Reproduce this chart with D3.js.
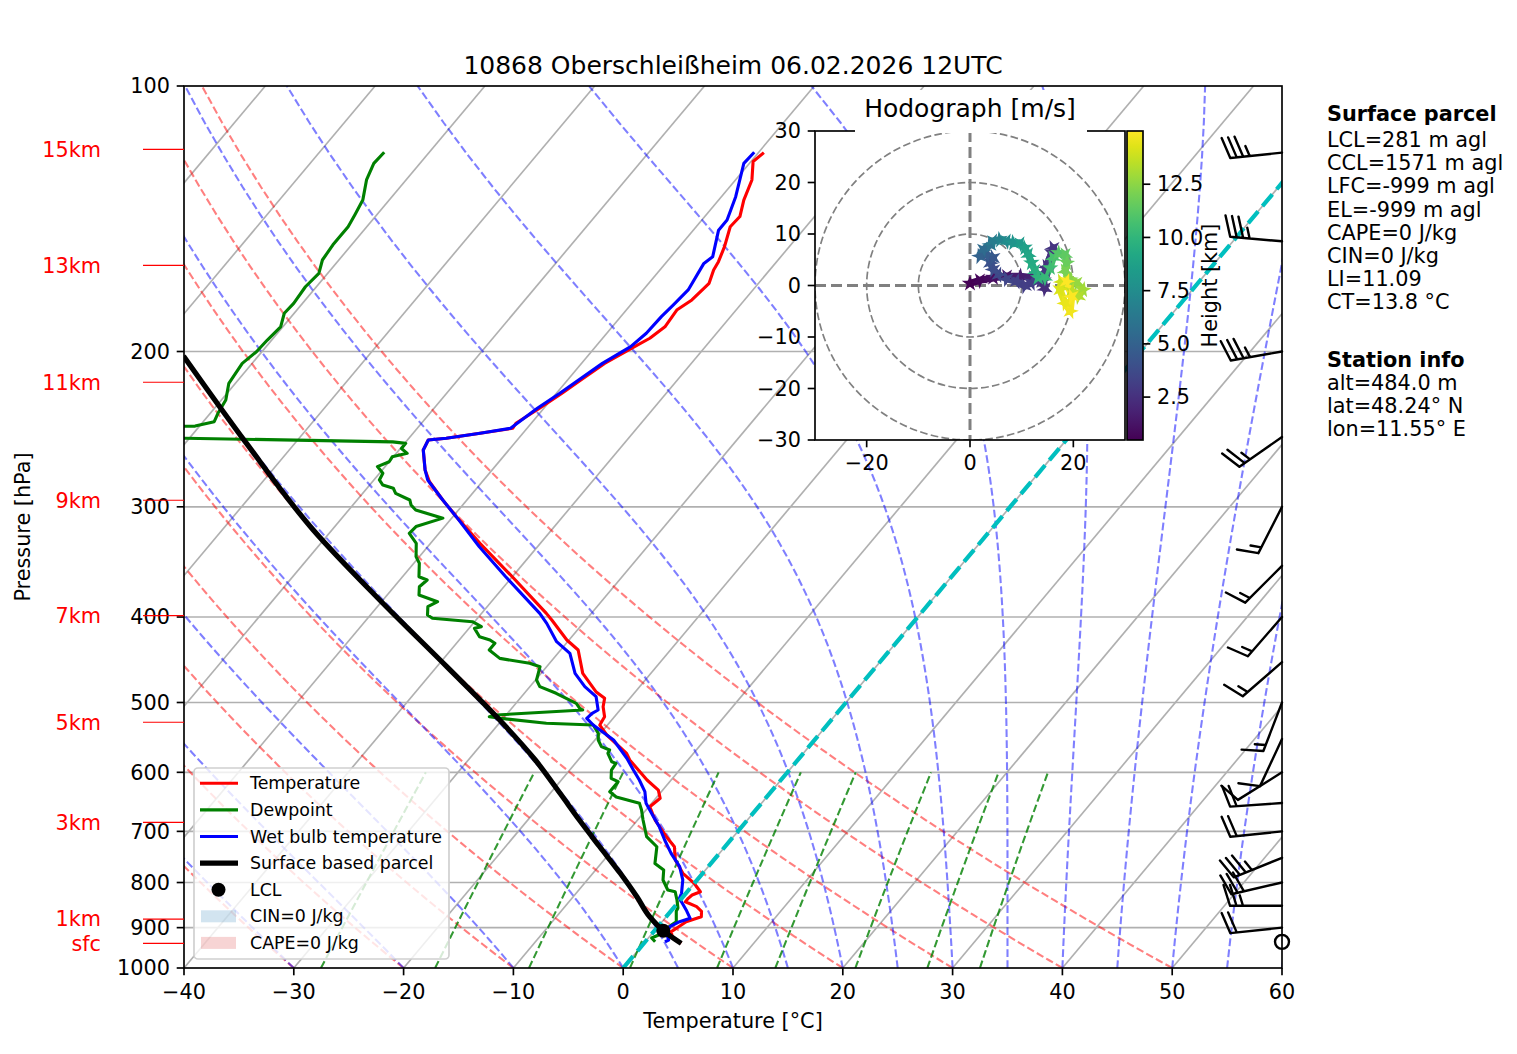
<!DOCTYPE html>
<html>
<head>
<meta charset="utf-8">
<script src="https://cdn.jsdelivr.net/npm/d3@7"></script>
<style>
  body { margin: 0; background: #fff; }
  svg { font-family: "DejaVu Sans", sans-serif; }
</style>
</head>
<body>
<div id="chart"></div>
<script>
// ---- sounding data ----
const tempP = [937.6, 922.4, 909.5, 897.8, 886.2, 874.8, 862.4, 852, 841.1, 833.7, 826.5, 819.4, 812, 801.7, 781, 754.4, 728.7, 709.8, 679.6, 656.4, 642.1, 628.4, 612.1, 581, 570.9, 544.3, 530.3, 518.9, 505.5, 494.6, 486.1, 463.4, 436, 424.7, 403.1, 396.2, 360.1, 330, 307.8, 294.7, 281, 272.5, 258.6, 252, 250.8, 247.6, 244.4, 241.2, 231.9, 223, 215.4, 206.3, 198.4, 193.2, 187.5, 179.5, 174.8, 167.4, 161.7, 158.2, 152.1, 144.4, 140.6, 134.7, 127.8, 121.8, 119];
const tempT = [3.4, 2.1, 1.6, 1.9, 2.2, 3.2, 2.8, 2.0, 0.6, 0.6, 0.7, 1.2, 0.7, 0.0, -1.8, -3.5, -4.6, -6.1, -8.4, -9.9, -9.6, -10.4, -12.2, -15.3, -16.1, -19.3, -20.7, -20.9, -21.8, -22.3, -23.6, -26.2, -28.4, -30.2, -33.1, -34.1, -40.0, -45.5, -49.7, -52.2, -54.8, -56.1, -57.8, -58.1, -56.6, -53.9, -51.3, -51.4, -50.4, -49.5, -48.8, -47.9, -46.6, -45.7, -45.2, -45.4, -44.8, -44.5, -45.1, -45.3, -45.9, -46.9, -46.8, -47.7, -48.5, -49.8, -49.5];

const dewP = [933.7, 924.7, 917.5, 893.7, 886.2, 862.4, 855.1, 837.3, 819.4, 815.8, 794.7, 774.3, 761.1, 728.7, 709.8, 679.6, 662.1, 650.6, 639.9, 631.1, 614.9, 609.4, 596.4, 586.1, 583.7, 570.9, 566, 561.1, 551.4, 541.9, 530.3, 527.9, 521.1, 518.9, 516.6, 509.9, 507.7, 501.1, 488.1, 479.7, 471.5, 455.4, 451.4, 445.6, 436, 428.4, 424.7, 421.1, 412, 410.2, 404.9, 401.3, 397.9, 389.4, 384.3, 377.7, 369.6, 363.2, 360.1, 347.6, 341.7, 330, 321.5, 315.9, 309, 302.5, 298.6, 294.7, 289.6, 285.8, 283.4, 279.7, 274.8, 270.1, 266.7, 263.3, 260.9, 257.6, 254.2, 253.2, 250.8, 248, 245, 243, 240.2, 235, 227, 217.3, 206.3, 200.1, 194.1, 187.5, 181, 176.4, 168.9, 163.1, 157.5, 151.4, 144.4, 140, 134.7, 127.8, 122.4, 118.9];
const dewT = [0.9, 0.3, 0.7, 1.1, 1.3, 0.5, 0.4, -0.3, -1.1, -1.9, -3.1, -3.8, -5.1, -6.2, -7.9, -9.5, -10.4, -11.1, -13.7, -14.7, -14.7, -15.6, -16.2, -16.3, -16.8, -17.8, -17.9, -18.9, -19.7, -20.2, -21.3, -25.7, -30.3, -31.4, -30.9, -23.4, -23.8, -24.5, -27.1, -29.1, -29.9, -30.6, -31.8, -34.9, -36.5, -36.5, -37.2, -38.4, -39.5, -39.0, -40.2, -44.1, -44.8, -45.4, -44.9, -47.1, -47.7, -47.5, -48.5, -49.5, -50.3, -51.3, -52.7, -52.6, -50.8, -53.9, -54.7, -55.2, -57.0, -57.6, -58.8, -59.5, -59.7, -60.7, -60.0, -60.1, -59.0, -59.9, -59.9, -61.2, -80.4, -95, -95, -80.4, -79.0, -79.3, -79.6, -80.6, -80.9, -80.5, -80.4, -80.2, -80.9, -80.8, -81.0, -80.8, -81.5, -81.7, -81.7, -82.0, -82.4, -83.6, -84.2, -84.1];

const wetP = [933.7, 929.6, 913.4, 897.8, 886.2, 878.4, 859.4, 833.7, 822.7, 794.7, 767.6, 741.3, 716, 691.7, 673.8, 650.6, 631.1, 612.1, 596.4, 578.3, 551.4, 530.3, 521.1, 514.3, 509.9, 492.5, 479.7, 463.4, 439.8, 426.6, 406.7, 396.2, 360.1, 332.9, 307.8, 294.7, 279.7, 272.5, 258.6, 252, 250.8, 247.6, 244.4, 231.9, 223, 215.4, 206.3, 197.5, 190.7, 182.6, 177.1, 170.3, 158.9, 156.2, 145.7, 141.9, 133.5, 122.4, 118.9];
const wetT = [1.8, 2.0, 1.3, 1.1, 1.6, 2.3, 1.3, -0.2, -0.4, -1.3, -2.6, -4.4, -6.0, -7.5, -8.8, -10.5, -11.5, -12.9, -14.2, -15.7, -18.3, -21.3, -22.4, -22.3, -22.0, -23.2, -25.0, -26.9, -28.9, -31.0, -33.3, -34.7, -40.6, -45.3, -49.7, -52.2, -55.1, -56.1, -57.8, -58.1, -56.6, -53.9, -51.5, -50.6, -49.7, -49.0, -48.1, -46.8, -46.4, -46.3, -46.1, -45.9, -46.5, -46.2, -47.7, -47.7, -48.7, -50.5, -50.4];

const parcelP = [937.6, 907.2, 874.8, 830.2, 781, 728.7, 679.6, 633.8, 581, 523.4, 455.3, 382.6, 318.7, 254.2, 202.4];
const parcelT = [3.4, 0.8, -1.5, -4.2, -7.5, -11.4, -15.3, -19.1, -23.9, -30.2, -39.1, -50.3, -61.7, -74.4, -86.8];
const lclP = 907.2, lclT = 0.8;

// wind barbs: pressure [hPa], direction [deg], speed [kt]
const barbP   = [119, 150, 200, 250, 300, 350, 400, 450, 500, 550, 600, 650, 700, 750, 800, 850, 900, 934];
const barbDir = [264, 275, 260, 235, 207, 225, 221, 229, 201, 205, 238, 266, 264, 248, 257, 270, 264, 0];
const barbSpd = [35, 35, 35, 25, 15, 15, 15, 15, 15, 10, 10, 20, 20, 35, 30, 25, 20, 0];

// height markers on the pressure axis
const heightLabels = ["sfc", "1km", "3km", "5km", "7km", "9km", "11km", "13km", "15km"];
const heightP      = [937.6, 880, 683.6, 526.5, 398.6, 294.9, 216.7, 159.7, 118.0];

// hodograph: u, v [m/s] and height [km]
const hodoU = [0, 1.9, 4.5, 7.1, 9.7, 12.3, 13.9, 14.5, 14.2, 14.8, 15.8, 16.1, 14.8, 13.5, 11.9, 10.6, 9.0, 7.1, 5.5, 4.5, 3.9, 4.5, 3.2, 1.9, 2.6, 3.9, 4.5, 5.8, 7.1, 8.4, 9.7, 10.6, 11.3, 11.9, 12.6, 13.2, 14.5, 15.5, 16.1, 17.1, 18.4, 18.7, 18.4, 19.4, 20.6, 21.9, 21.0, 19.7, 17.7, 17.4, 18.4, 19.4, 19.7, 18.7];
const hodoV = [0.4, 1.0, 1.5, 1.8, 1.8, 1.5, 0.8, -0.6, 1.2, 3.7, 6.3, 7.3, 3.1, 1.2, 0.5, -0.1, 0.8, 1.3, 2.1, 3.1, 4.4, 5.4, 6.0, 5.7, 7.0, 7.9, 8.6, 8.9, 8.6, 8.3, 8.1, 7.3, 6.0, 4.4, 2.8, 1.5, 1.5, 3.4, 5.4, 6.3, 6.0, 4.4, 2.8, 1.2, 0.5, -0.8, -2.1, -1.1, 0.8, -0.8, -3.4, -5.0, -2.1, 0.8];
const hodoH = [0.48, 0.7, 1.0, 1.3, 1.6, 1.9, 2.1, 2.3, 2.4, 2.5, 2.6, 2.7, 2.8, 2.9, 3.0, 3.1, 3.3, 3.5, 3.7, 3.9, 4.1, 4.4, 4.7, 5.0, 5.5, 6.0, 6.5, 7.0, 7.5, 8.0, 8.4, 8.7, 9.0, 9.3, 9.6, 9.9, 10.2, 10.5, 10.8, 11.1, 11.4, 11.7, 12.0, 12.4, 12.7, 13.0, 13.3, 13.6, 13.9, 14.2, 14.5, 14.7, 14.9, 15.0];
const hodoHmin = 0.484, hodoHmax = 15.0;

// text blocks
const parcelInfo = ["LCL=281 m agl", "CCL=1571 m agl", "LFC=-999 m agl", "EL=-999 m agl", "CAPE=0 J/kg", "CIN=0 J/kg", "LI=11.09", "CT=13.8 °C"];
const stationInfo = ["alt=484.0 m", "lat=48.24° N", "lon=11.55° E"];
const titleText = "10868 Oberschleißheim 06.02.2026 12UTC";

// reference lines
const pressureTicks = [100, 200, 300, 400, 500, 600, 700, 800, 900, 1000];
const tempTicks = d3.range(-40, 61, 10);
const dryT0 = d3.range(-40, 51, 10);
const moistT0 = [-40, -30, -20, -10, 0, 5, 10, 15, 20, 25, 30, 35, 40, 45, 50, 55, 60];
const mixRatios = [0.0004, 0.001, 0.002, 0.004, 0.007, 0.01, 0.016, 0.024, 0.032];

// ---- layout ----
const WIDTH = 1517, HEIGHT = 1054;
const M = { left: 184, right: 1282, top: 86, bottom: 968 };
const FS = 20.8;

const svg = d3.select("#chart").append("svg")
  .attr("width", WIDTH).attr("height", HEIGHT);

const x = d3.scaleLinear().domain([-40, 60]).range([M.left, M.right]);
const y = d3.scaleLog().domain([1000, 100]).range([M.bottom, M.top]);
const SKEW = Math.tan(40 * Math.PI / 180);
// skewed x position of temperature t at pressure p
const sx = (t, p) => x(t) + (M.bottom - y(p)) * SKEW;

svg.append("clipPath").attr("id", "plotclip").append("rect")
  .attr("x", M.left).attr("y", M.top)
  .attr("width", M.right - M.left).attr("height", M.bottom - M.top);

const plot = svg.append("g").attr("clip-path", "url(#plotclip)");

const line = d3.line().x(d => sx(d[1], d[0])).y(d => y(d[0]));

// isotherms
for (let t = -110; t <= 60; t += 10) {
  plot.append("line")
    .attr("x1", sx(t, 1000)).attr("y1", y(1000))
    .attr("x2", sx(t, 100)).attr("y2", y(100))
    .attr("stroke", "#b0b0b0").attr("stroke-width", 1.67);
}
// isobars
for (const p of pressureTicks.slice(1, -1)) {
  plot.append("line")
    .attr("x1", M.left).attr("x2", M.right)
    .attr("y1", y(p)).attr("y2", y(p))
    .attr("stroke", "#b0b0b0").attr("stroke-width", 1.67);
}

const plevels = d3.range(1000, 99, -10);

// dry adiabats
for (const t0 of dryT0) {
  const pts = plevels.map(p => [p, (t0 + 273.15) * Math.pow(p / 1000, 0.2857) - 273.15]);
  plot.append("path").attr("d", line(pts))
    .attr("fill", "none").attr("stroke", "rgba(255,0,0,0.5)")
    .attr("stroke-width", 2.08).attr("stroke-dasharray", "7.7,3.3");
}

// moist adiabats: conserve saturated equivalent potential temperature (Bolton)
const esat = tc => 6.112 * Math.exp(17.67 * tc / (tc + 243.5));
function thetaE(T, p) {
  const e = esat(T - 273.15);
  const r = 622 * e / (p - e);
  return T * Math.pow(1000 / (p - e), 0.2854) * Math.exp((3.376 / T - 0.00254) * r * (1 + 0.00081 * r));
}
function moistAdiabat(t0) {
  const te = thetaE(t0 + 273.15, 1000);
  return plevels.map(p => {
    const l = Math.log(0.5 * p / 6.112);
    let lo = 120, hi = Math.min(t0 + 273.15, 243.5 * l / (17.67 - l) + 273.15);
    for (let k = 0; k < 50; k++) {
      const mid = (lo + hi) / 2;
      if (thetaE(mid, p) > te) hi = mid; else lo = mid;
    }
    return [p, (lo + hi) / 2 - 273.15];
  });
}
for (const t0 of moistT0) {
  plot.append("path").attr("d", line(moistAdiabat(t0)))
    .attr("fill", "none").attr("stroke", "rgba(0,0,255,0.5)")
    .attr("stroke-width", 2.08).attr("stroke-dasharray", "7.7,3.3");
}

// mixing ratio lines
for (const w of mixRatios) {
  const pts = d3.range(1000, 599, -10).map(p => {
    const e = p * w / (0.622 + w);
    const l = Math.log(e / 6.112);
    return [p, 243.5 * l / (17.67 - l)];
  });
  plot.append("path").attr("d", line(pts))
    .attr("fill", "none").attr("stroke", "rgba(0,128,0,0.8)")
    .attr("stroke-width", 2.08).attr("stroke-dasharray", "7.7,3.3");
}

// profiles
const zip = (a, b) => a.map((v, i) => [v, b[i]]);
plot.append("path").attr("d", line(zip(tempP, tempT)))
  .attr("fill", "none").attr("stroke", "#ff0000").attr("stroke-width", 3.1).attr("stroke-linejoin", "round");
plot.append("path").attr("d", line(zip(dewP, dewT)))
  .attr("fill", "none").attr("stroke", "#008000").attr("stroke-width", 3.1).attr("stroke-linejoin", "round");
plot.append("path").attr("d", line(zip(wetP, wetT)))
  .attr("fill", "none").attr("stroke", "#0000ff").attr("stroke-width", 3.1).attr("stroke-linejoin", "round");

// 0 degC isotherm
plot.append("line")
  .attr("x1", sx(0, 1000)).attr("y1", y(1000))
  .attr("x2", sx(0, 100)).attr("y2", y(100))
  .attr("stroke", "#00bfbf").attr("stroke-width", 4.2).attr("stroke-dasharray", "15.4,6.7");

// parcel
plot.append("path")
  .attr("d", d3.line().x(d => sx(d[1], d[0])).y(d => y(d[0])).curve(d3.curveMonotoneY)(zip(parcelP, parcelT)))
  .attr("fill", "none").attr("stroke", "#000").attr("stroke-width", 5.2);
plot.append("circle").attr("cx", sx(lclT, lclP)).attr("cy", y(lclP)).attr("r", 7).attr("fill", "#000");

// ---- legend ----
const lg = svg.append("g");
lg.append("rect").attr("x", 194).attr("y", 768).attr("width", 255).attr("height", 191)
  .attr("rx", 4).attr("fill", "rgba(255,255,255,0.8)").attr("stroke", "#d0d0d0").attr("stroke-width", 1.7);
const legendItems = [
  { label: "Temperature", type: "line", color: "#ff0000", w: 3.1 },
  { label: "Dewpoint", type: "line", color: "#008000", w: 3.1 },
  { label: "Wet bulb temperature", type: "line", color: "#0000ff", w: 3.1 },
  { label: "Surface based parcel", type: "line", color: "#000", w: 5.2 },
  { label: "LCL", type: "dot", color: "#000" },
  { label: "CIN=0 J/kg", type: "patch", color: "rgba(31,119,180,0.2)" },
  { label: "CAPE=0 J/kg", type: "patch", color: "rgba(214,39,40,0.2)" }
];
legendItems.forEach((d, i) => {
  const cy = 783.3 + i * 26.6;
  if (d.type === "line") {
    lg.append("line").attr("x1", 200).attr("x2", 238).attr("y1", cy).attr("y2", cy)
      .attr("stroke", d.color).attr("stroke-width", d.w);
  } else if (d.type === "dot") {
    lg.append("circle").attr("cx", 218.5).attr("cy", cy).attr("r", 7).attr("fill", d.color);
  } else {
    lg.append("rect").attr("x", 201).attr("y", cy - 6).attr("width", 35).attr("height", 12).attr("fill", d.color);
  }
  lg.append("text").attr("x", 250).attr("y", cy).attr("dy", "0.35em")
    .attr("font-size", 17.4).text(d.label);
});

// ---- axes frame, ticks, labels ----
svg.append("rect").attr("x", M.left).attr("y", M.top)
  .attr("width", M.right - M.left).attr("height", M.bottom - M.top)
  .attr("fill", "none").attr("stroke", "#000").attr("stroke-width", 1.67);

for (const p of pressureTicks) {
  svg.append("line").attr("x1", M.left - 7.3).attr("x2", M.left).attr("y1", y(p)).attr("y2", y(p))
    .attr("stroke", "#000").attr("stroke-width", 1.67);
  svg.append("text").attr("x", 170).attr("y", y(p)).attr("dy", "0.35em")
    .attr("text-anchor", "end").attr("font-size", FS).text(p);
}
for (const t of tempTicks) {
  svg.append("line").attr("x1", x(t)).attr("x2", x(t)).attr("y1", M.bottom).attr("y2", M.bottom + 7.3)
    .attr("stroke", "#000").attr("stroke-width", 1.67);
  svg.append("text").attr("x", x(t)).attr("y", 992).attr("dy", "0.35em")
    .attr("text-anchor", "middle").attr("font-size", FS).text(t < 0 ? "\u2212" + (-t) : t);
}
svg.append("text").attr("x", (M.left + M.right) / 2).attr("y", 1021).attr("dy", "0.35em")
  .attr("text-anchor", "middle").attr("font-size", FS).text("Temperature [°C]");
svg.append("text").attr("transform", `translate(23,${(M.top + M.bottom) / 2}) rotate(-90)`)
  .attr("dy", "0.35em").attr("text-anchor", "middle").attr("font-size", FS).text("Pressure [hPa]");
svg.append("text").attr("x", (M.left + M.right) / 2).attr("y", 65).attr("dy", "0.35em")
  .attr("text-anchor", "middle").attr("font-size", 25).text(titleText);

// height markers
heightLabels.forEach((lab, i) => {
  svg.append("line").attr("x1", 143).attr("x2", M.left).attr("y1", y(heightP[i])).attr("y2", y(heightP[i]))
    .attr("stroke", "#ff0000").attr("stroke-width", 1.2);
  svg.append("text").attr("x", 101).attr("y", y(heightP[i])).attr("dy", "0.35em")
    .attr("text-anchor", "end").attr("font-size", FS).attr("fill", "#ff0000").text(lab);
});

// ---- wind barbs ----
const bg = svg.append("g").attr("stroke", "#000").attr("stroke-width", 2.4)
  .attr("fill", "none").attr("stroke-linecap", "round");
function drawBarb(bx, by, dir, spd) {
  const L = 52, fh = 0.4 * L, fw = 0.25 * L, sp = 0.125 * L;
  if (spd < 2.5) {
    bg.append("circle").attr("cx", bx).attr("cy", by).attr("r", 7);
    return;
  }
  const r = dir * Math.PI / 180;
  const s = [Math.sin(r), -Math.cos(r)];   // along staff, toward the wind origin
  const n = [Math.cos(r), Math.sin(r)];    // barb side
  const ex = bx + L * s[0], ey = by + L * s[1];
  let d = `M${bx},${by}L${ex},${ey}`;
  let v = Math.round(spd / 5) * 5;
  const flags = Math.floor(v / 50); v -= flags * 50;
  const full = Math.floor(v / 10);
  const half = v % 10 >= 5;
  let pos = 0;
  for (let i = 0; i < flags; i++) {
    const px = ex - s[0] * pos, py = ey - s[1] * pos;
    const qx = px + n[0] * fh - s[0] * fw / 2, qy = py + n[1] * fh - s[1] * fw / 2;
    const rx = px - s[0] * fw, ry = py - s[1] * fw;
    bg.append("path").attr("d", `M${px},${py}L${qx},${qy}L${rx},${ry}Z`).attr("fill", "#000");
    pos += fw + sp;
  }
  for (let i = 0; i < full; i++) {
    const px = ex - s[0] * pos, py = ey - s[1] * pos;
    d += `M${px},${py}L${px + n[0] * fh + s[0] * fw / 2},${py + n[1] * fh + s[1] * fw / 2}`;
    pos += sp;
  }
  if (half) {
    if (flags === 0 && full === 0) pos = sp;
    const px = ex - s[0] * pos, py = ey - s[1] * pos;
    d += `M${px},${py}L${px + n[0] * fh / 2 + s[0] * fw / 4},${py + n[1] * fh / 2 + s[1] * fw / 4}`;
  }
  bg.append("path").attr("d", d);
}
barbP.forEach((p, i) => drawBarb(M.right, y(p), barbDir[i], barbSpd[i]));

// ---- hodograph inset ----
const H = { left: 815, right: 1125, top: 131, bottom: 440 };
const hu = d3.scaleLinear().domain([-30, 30]).range([H.left, H.right]);
const hv = d3.scaleLinear().domain([-30, 30]).range([H.bottom, H.top]);
const hg = svg.append("g");
hg.append("rect").attr("x", H.left).attr("y", H.top)
  .attr("width", H.right - H.left).attr("height", H.bottom - H.top).attr("fill", "#fff");
hg.append("clipPath").attr("id", "hodoclip").append("rect")
  .attr("x", H.left).attr("y", H.top).attr("width", H.right - H.left).attr("height", H.bottom - H.top);
const hin = hg.append("g").attr("clip-path", "url(#hodoclip)");
for (const rr of [10, 20, 30]) {
  hin.append("ellipse").attr("cx", hu(0)).attr("cy", hv(0))
    .attr("rx", hu(rr) - hu(0)).attr("ry", hv(0) - hv(rr))
    .attr("fill", "none").attr("stroke", "#808080").attr("stroke-width", 1.7).attr("stroke-dasharray", "7.7,3.3");
}
hin.append("line").attr("x1", H.left).attr("x2", H.right).attr("y1", hv(0)).attr("y2", hv(0))
  .attr("stroke", "#808080").attr("stroke-width", 3).attr("stroke-dasharray", "11,5");
hin.append("line").attr("x1", hu(0)).attr("x2", hu(0)).attr("y1", H.top).attr("y2", H.bottom)
  .attr("stroke", "#808080").attr("stroke-width", 3).attr("stroke-dasharray", "11,5");

const hcolor = h => d3.interpolateViridis((h - hodoHmin) / (hodoHmax - hodoHmin));
for (let i = 0; i < hodoU.length - 1; i++) {
  hin.append("line")
    .attr("x1", hu(hodoU[i])).attr("y1", hv(hodoV[i]))
    .attr("x2", hu(hodoU[i + 1])).attr("y2", hv(hodoV[i + 1]))
    .attr("stroke", hcolor((hodoH[i] + hodoH[i + 1]) / 2))
    .attr("stroke-width", 7).attr("stroke-linecap", "round");
}
const star = d3.symbol().type(d3.symbolStar).size(85);
hodoU.forEach((u, i) => {
  hin.append("path").attr("d", star)
    .attr("transform", `translate(${hu(u)},${hv(hodoV[i])}) rotate(${(i * 37) % 72})`)
    .attr("fill", hcolor(hodoH[i]));
});

hg.append("rect").attr("x", H.left).attr("y", H.top)
  .attr("width", H.right - H.left).attr("height", H.bottom - H.top)
  .attr("fill", "none").attr("stroke", "#000").attr("stroke-width", 1.67);
for (const v of [-30, -20, -10, 0, 10, 20, 30]) {
  hg.append("line").attr("x1", H.left - 7.3).attr("x2", H.left).attr("y1", hv(v)).attr("y2", hv(v))
    .attr("stroke", "#000").attr("stroke-width", 1.67);
  hg.append("text").attr("x", 801).attr("y", hv(v)).attr("dy", "0.35em")
    .attr("text-anchor", "end").attr("font-size", FS).text(v < 0 ? "\u2212" + (-v) : v);
}
for (const u of [-20, 0, 20]) {
  hg.append("line").attr("x1", hu(u)).attr("x2", hu(u)).attr("y1", H.bottom).attr("y2", H.bottom + 7.3)
    .attr("stroke", "#000").attr("stroke-width", 1.67);
  hg.append("text").attr("x", hu(u)).attr("y", 463).attr("dy", "0.35em")
    .attr("text-anchor", "middle").attr("font-size", FS).text(u < 0 ? "\u2212" + (-u) : u);
}
// title with white box
hg.append("rect").attr("x", 855).attr("y", 90).attr("width", 232).attr("height", 43).attr("fill", "#fff");
hg.append("text").attr("x", hu(0)).attr("y", 108).attr("dy", "0.35em")
  .attr("text-anchor", "middle").attr("font-size", 25).text("Hodograph [m/s]");

// colorbar
const CB = { left: 1127, width: 16 };
const grad = svg.append("defs").append("linearGradient").attr("id", "viridis")
  .attr("x1", 0).attr("y1", 1).attr("x2", 0).attr("y2", 0);
d3.range(0, 1.0001, 0.05).forEach(t => {
  grad.append("stop").attr("offset", t).attr("stop-color", d3.interpolateViridis(t));
});
svg.append("rect").attr("x", CB.left).attr("y", H.top).attr("width", CB.width).attr("height", H.bottom - H.top)
  .attr("fill", "url(#viridis)").attr("stroke", "#000").attr("stroke-width", 1.67);
const cbY = d3.scaleLinear().domain([hodoHmin, hodoHmax]).range([H.bottom, H.top]);
for (const t of [2.5, 5.0, 7.5, 10.0, 12.5]) {
  svg.append("line").attr("x1", CB.left + CB.width).attr("x2", CB.left + CB.width + 7.3)
    .attr("y1", cbY(t)).attr("y2", cbY(t)).attr("stroke", "#000").attr("stroke-width", 1.67);
  svg.append("text").attr("x", 1157).attr("y", cbY(t)).attr("dy", "0.35em")
    .attr("font-size", FS).text(t.toFixed(1));
}
svg.append("text").attr("transform", `translate(1210,${(H.top + H.bottom) / 2}) rotate(-90)`)
  .attr("dy", "0.35em").attr("text-anchor", "middle").attr("font-size", FS).text("Height [km]");

// ---- info text ----
const info = svg.append("g").attr("font-size", FS);
info.append("text").attr("x", 1327).attr("y", 114).attr("dy", "0.35em").attr("font-weight", "bold").text("Surface parcel");
parcelInfo.forEach((t, i) => info.append("text").attr("x", 1327).attr("y", 140 + i * 23.1).attr("dy", "0.35em").text(t));
info.append("text").attr("x", 1327).attr("y", 360).attr("dy", "0.35em").attr("font-weight", "bold").text("Station info");
stationInfo.forEach((t, i) => info.append("text").attr("x", 1327).attr("y", 383 + i * 22.8).attr("dy", "0.35em").text(t));
</script>
</body>
</html>
